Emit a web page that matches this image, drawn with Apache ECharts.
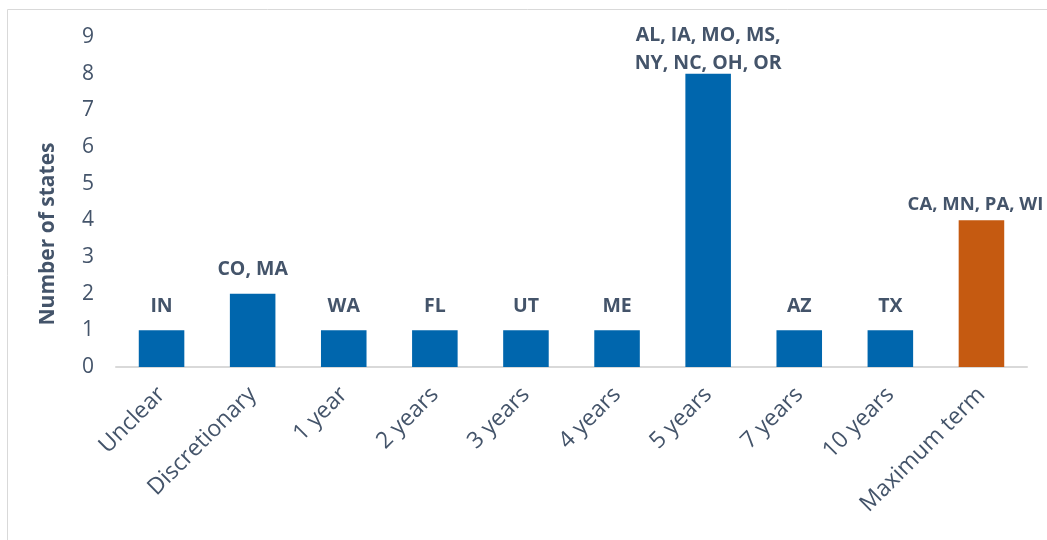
<!DOCTYPE html>
<html>
<head>
<meta charset="utf-8">
<script src="https://cdn.jsdelivr.net/npm/echarts@6/dist/echarts.min.js"></script>
<style>
  html, body { margin: 0; padding: 0; background: #fff; }
  #chart { width: 1047px; height: 540px; }
</style>
</head>
<body>
<div id="chart"></div>
<script>
// categories and values
const categories = ['Unclear', 'Discretionary', '1 year', '2 years', '3 years', '4 years', '5 years', '7 years', '10 years', 'Maximum term'];
const stateCounts = [1, 2, 1, 1, 1, 1, 8, 1, 1, 4];
const stateLabels = ['IN', 'CO, MA', 'WA', 'FL', 'UT', 'ME', 'AL, IA, MO, MS,\nNY, NC, OH, OR', 'AZ', 'TX', 'CA, MN, PA, WI'];
const barColors = ['#0066AD', '#0066AD', '#0066AD', '#0066AD', '#0066AD', '#0066AD', '#0066AD', '#0066AD', '#0066AD', '#C55A11'];
const yTicks = [0, 1, 2, 3, 4, 5, 6, 7, 8, 9];

const textColor = '#44546A';
const font = '"Open Sans", sans-serif';

// labels sit a bit closer on the tall bar and the orange one
const labelGap = [10, 10, 10, 10, 10, 10, -4, 10, 10, 2];

let chart = echarts.init(document.getElementById('chart'));

let option = {
    animation: false,
    graphic: [{
        type: 'rect',
        shape: { x: 7.5, y: 9.5, width: 1100, height: 600 },
        style: { fill: 'none', stroke: '#D9D9D9', lineWidth: 1 },
        silent: true
    }, {
        type: 'text',
        x: 48,
        y: 234,
        rotation: Math.PI / 2,
        style: {
            text: 'Number of states',
            fill: textColor,
            font: 'bold 21px "Open Sans", sans-serif',
            align: 'center',
            verticalAlign: 'middle'
        },
        silent: true
    }],
    grid: { left: 116, right: 20, top: 37, bottom: 173 },
    xAxis: {
        type: 'category',
        data: categories,
        axisLine: { lineStyle: { color: '#D9D9D9', width: 2 } },
        axisTick: { show: false },
        axisLabel: {
            interval: 0,
            rotate: 45,
            margin: 24,
            color: textColor,
            fontSize: 23,
            fontFamily: font
        }
    },
    yAxis: {
        type: 'value',
        min: yTicks[0],
        max: yTicks[yTicks.length - 1],
        interval: 1,
        splitLine: { show: false },
        axisLine: { show: false },
        axisTick: { show: false },
        axisLabel: { color: textColor, fontSize: 21, fontFamily: font, margin: 22 }
    },
    series: [{
        type: 'bar',
        barWidth: '50%',
        data: stateCounts.map((v, i) => ({
            value: v,
            itemStyle: { color: barColors[i] },
            label: i === 9
                ? { distance: labelGap[i], fontSize: 18.5, offset: [-6, 0] }
                : { distance: labelGap[i] }
        })),
        label: {
            show: true,
            position: 'top',
            color: textColor,
            fontSize: 19.5,
            fontWeight: 'bold',
            fontFamily: font,
            lineHeight: 28,
            formatter: (p) => stateLabels[p.dataIndex]
        }
    }]
};

chart.setOption(option);
</script>
</body>
</html>
